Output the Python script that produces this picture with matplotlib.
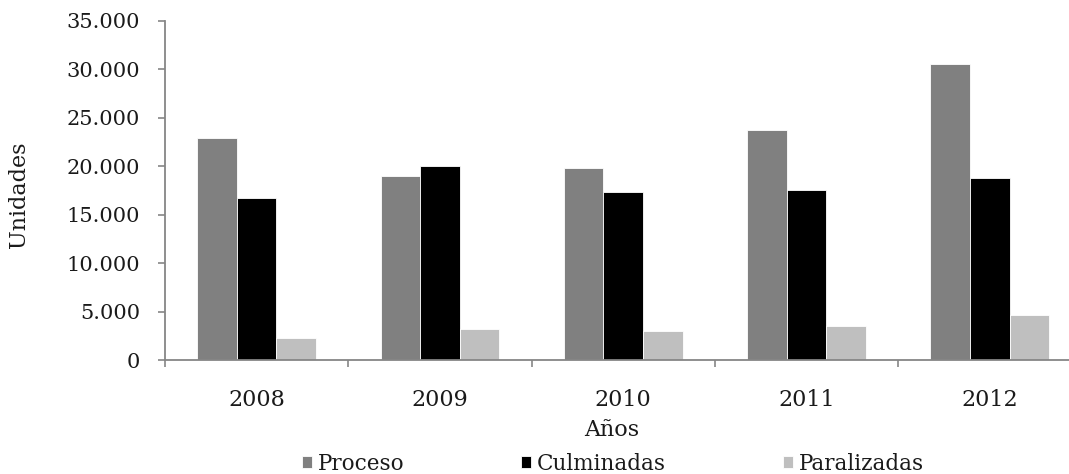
import numpy as np
import matplotlib.pyplot as plt
from matplotlib.ticker import FuncFormatter, FixedLocator

plt.rcParams['font.family'] = ['DejaVu Serif']

anios = ['2008', '2009', '2010', '2011', '2012']
proceso = [22900, 19000, 19800, 23700, 30550]
culminadas = [16750, 20050, 17350, 17550, 18750]
paralizadas = [2300, 3150, 2950, 3550, 4600]

gris_eje = '#868686'
texto = '#1a1a1a'

fig = plt.figure(figsize=(10.69, 4.74), dpi=100)
ax = fig.add_axes([165/1069, 114/474, 904/1069, 339/474])

x = np.arange(len(anios))
w = 0.216
ax.bar(x - w, proceso, w, color='#808080', edgecolor='white', linewidth=0.6, label='Proceso')
ax.bar(x, culminadas, w, color='#000000', edgecolor='white', linewidth=0.6, label='Culminadas')
ax.bar(x + w, paralizadas, w, color='#bfbfbf', edgecolor='white', linewidth=0.6, label='Paralizadas')

ax.set_ylim(0, 35000)
ax.set_yticks(np.arange(0, 35001, 5000))
ax.yaxis.set_major_formatter(FuncFormatter(lambda v, p: '{:,.0f}'.format(v).replace(',', '.')))
ax.set_xlim(-0.5, -0.5 + 904/183.3)

# ticks en los limites de categoria, etiquetas en el centro
ax.xaxis.set_major_locator(FixedLocator(np.arange(-0.5, 5, 1)))
ax.xaxis.set_minor_locator(FixedLocator(x))
ax.set_xticklabels([], minor=False)
ax.set_xticklabels(anios, minor=True)
ax.tick_params(axis='x', which='major', length=5, color=gris_eje, width=1.2)
ax.tick_params(axis='x', which='minor', length=0, pad=21, labelsize=16, labelcolor=texto)
ax.tick_params(axis='y', length=5, color=gris_eje, width=1.2, pad=13, labelsize=15, labelcolor=texto)

for s in ['top', 'right']:
    ax.spines[s].set_visible(False)
for s in ['left', 'bottom']:
    ax.spines[s].set_color(gris_eje)
    ax.spines[s].set_linewidth(1.3)

fig.text(19/1069, 1 - 195/474, 'Unidades', rotation=90, ha='center', va='center', fontsize=16, color=texto)
fig.text(612/1069, 1 - 430/474, 'Años', ha='center', va='center', fontsize=16, color=texto)

fig.legend(loc='center', bbox_to_anchor=(613/1069, 1 - 464/474), ncol=3, frameon=False,
           fontsize=15.5, handlelength=0.46, handleheight=0.46, handletextpad=0.28, columnspacing=5.43,
           labelcolor=texto)

fig.savefig('out.png', dpi=100)
